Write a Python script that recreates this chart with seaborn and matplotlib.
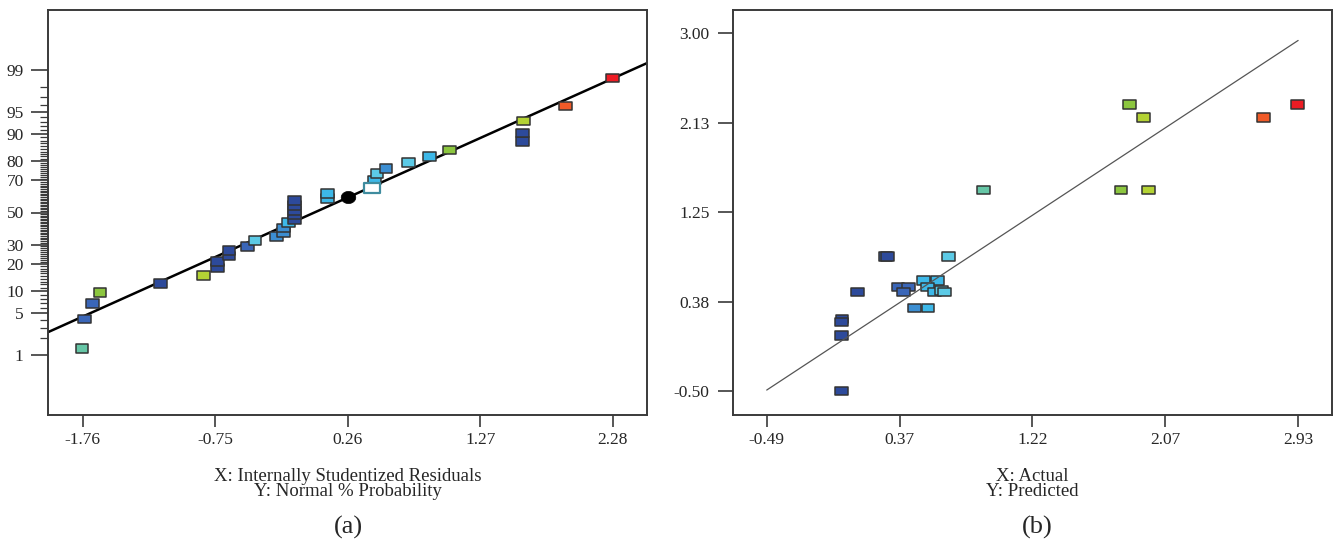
import math
import numpy as np
import pandas as pd
import matplotlib
matplotlib.use("Agg")
import matplotlib.pyplot as plt
from matplotlib.path import Path
import seaborn as sns

# ---------------- data ----------------
# (a) normal probability plot of internally studentized residuals
left_resid = [-1.766, -1.745, -1.685, -1.628, -1.167, -0.842, -0.733, -0.733,
              -0.646, -0.646, -0.502, -0.447, -0.282, -0.228, -0.228, -0.192,
              -0.149, -0.149, -0.149, -0.149, -0.149, 0.104, 0.104,
              0.465, 0.483, 0.551, 0.724, 0.880, 1.037, 1.591, 1.591, 1.597,
              1.916, 2.277]
left_prob = [1.33, 4.1, 6.9, 9.6, 12.4, 15.2, 18.3, 21.1,
             23.9, 26.7, 29.0, 32.3, 34.9, 37.3, 40.0, 43.4,
             45.1, 48.4, 51.2, 54.4, 57.6, 58.9, 62.3,
             70.2, 73.9, 76.5, 79.2, 82.0, 84.7, 87.7, 90.3, 93.2,
             95.9, 98.6]
left_level = ["c6", "c2", "c2", "c7", "c1", "c8", "c1", "c1",
              "c1", "c1", "c2", "c5", "c3", "c3", "c3", "c4",
              "c1", "c1", "c1", "c1", "c1", "c4", "c4",
              "c4", "c5", "c3", "c5", "c4", "c7", "c1", "c1", "c8",
              "c9", "c10"]
hollow_resid = [0.447]
hollow_prob = [65.3]
center_resid = [0.26]
center_prob = [59.8]
left_line_slope = 0.962        # z units per residual unit
left_line_anchor = (0.26, 0.245)
left_xticks = [-1.76, -0.75, 0.26, 1.27, 2.28]
left_xticklabels = ["-1.76", "-0.75", "0.26", "1.27", "2.28"]
left_yticks = [1, 5, 10, 20, 30, 50, 70, 80, 90, 95, 99]
left_yticklabels = ["1", "5", "10", "20", "30", "50", "70", "80", "90", "95", "99"]

# (b) predicted vs actual
right_actual = [-0.007, -0.007, -0.005, -0.007, 0.094, 0.272, 0.287, 0.355,
                0.420, 0.392, 0.462, 0.548, 0.517, 0.608, 0.546, 0.590,
                0.634, 0.655, 0.679, 0.903, 1.790, 1.967, 1.845, 1.933,
                2.708, 2.927]
right_pred = [-0.497, 0.043, 0.203, 0.177, 0.469, 0.817, 0.817, 0.518,
              0.518, 0.469, 0.313, 0.313, 0.580, 0.580, 0.518, 0.469,
              0.485, 0.469, 0.817, 1.468, 1.468, 1.468, 2.304, 2.177,
              2.177, 2.304]
right_level = ["c1", "c1", "c1", "c1", "c1", "c2", "c1", "c2",
               "c2", "c2", "c3", "c4", "c4", "c4", "c4", "c4",
               "c5", "c5", "c5", "c6", "c7", "c8", "c7", "c8",
               "c9", "c10"]
right_line_range = [-0.49, 2.93]
right_xticks = [-0.49, 0.365, 1.22, 2.075, 2.93]
right_xticklabels = ["-0.49", "0.37", "1.22", "2.07", "2.93"]
right_yticks = [-0.50, 0.375, 1.25, 2.125, 3.00]
right_yticklabels = ["-0.50", "0.38", "1.25", "2.13", "3.00"]

palette = {"c1": "#2D4A9B", "c2": "#3A66B8", "c3": "#3C8ED2", "c4": "#3DB8E8",
           "c5": "#5CCAE6", "c6": "#66C6A6", "c7": "#8CC63F", "c8": "#B4D334",
           "c9": "#F05A28", "c10": "#ED1C24"}


def norm_ppf(p):
    lo, hi = -10.0, 10.0
    for _ in range(200):
        mid = 0.5 * (lo + hi)
        if 0.5 * (1 + math.erf(mid / math.sqrt(2))) < p:
            lo = mid
        else:
            hi = mid
    return 0.5 * (lo + hi)


def to_z(percents):
    return [norm_ppf(v / 100.0) for v in percents]


# ---------------- style ----------------
sns.set_theme(style="white")
plt.rcParams["font.family"] = ["Liberation Serif", "DejaVu Serif"]
plt.rcParams["axes.edgecolor"] = "#3a3a3a"
plt.rcParams["axes.linewidth"] = 1.4

rect = Path([(-1.5, -1.0), (1.5, -1.0), (1.5, 1.0), (-1.5, 1.0), (-1.5, -1.0)],
            [Path.MOVETO, Path.LINETO, Path.LINETO, Path.LINETO, Path.CLOSEPOLY])
theta = np.linspace(0, 2 * np.pi, 60)
ellipse = Path(np.column_stack([1.2 * np.cos(theta), np.sin(theta)]))

fig = plt.figure(figsize=(13.35, 5.45), dpi=100)
fig.patch.set_facecolor("white")
axA = fig.add_axes([48 / 1335, 130 / 545, 599 / 1335, 405 / 545])
axB = fig.add_axes([733 / 1335, 130 / 545, 599 / 1335, 405 / 545])

tick_color = "#3a3a3a"

# ---------------- panel (a) ----------------
dfA = pd.DataFrame({"resid": left_resid, "z": to_z(left_prob), "level": left_level})
sns.scatterplot(data=dfA, x="resid", y="z", hue="level", palette=palette,
                marker=rect, s=85, edgecolor="#333333", linewidth=1.1,
                legend=False, ax=axA, zorder=3)
sns.scatterplot(x=hollow_resid, y=to_z(hollow_prob), marker=rect, s=130,
                color="white", edgecolor="#3F8C9F", linewidth=1.6,
                legend=False, ax=axA, zorder=3)
sns.scatterplot(x=center_resid, y=to_z(center_prob), marker=ellipse, s=110,
                color="black", edgecolor="black", linewidth=0.5,
                legend=False, ax=axA, zorder=4)
axA.axline(left_line_anchor, slope=left_line_slope, color="black", lw=1.8, zorder=2)

axA.set_xlim(-2.025, 2.54)
axA.set_ylim(-3.305, 3.305)
axA.set_xticks(left_xticks)
axA.set_xticklabels(left_xticklabels)
axA.set_yticks(to_z(left_yticks))
axA.set_yticklabels(left_yticklabels)
minor_p = [p for p in range(1, 100) if p not in left_yticks]
axA.set_yticks(to_z(minor_p), minor=True)
axA.tick_params(axis="y", which="major", length=12, width=1.2, pad=5.5,
                color=tick_color, labelsize=12.5, left=True)
axA.tick_params(axis="y", which="minor", length=6, width=0.9,
                color=tick_color, left=True)
axA.tick_params(axis="x", which="major", length=8.5, width=1.2, pad=4,
                color=tick_color, labelsize=12.5, bottom=True)
axA.set_xlabel("")
axA.set_ylabel("")

# ---------------- panel (b) ----------------
dfB = pd.DataFrame({"actual": right_actual, "pred": right_pred, "level": right_level})
sns.scatterplot(data=dfB, x="actual", y="pred", hue="level", palette=palette,
                marker=rect, s=85, edgecolor="#333333", linewidth=1.1,
                legend=False, ax=axB, zorder=3)
sns.lineplot(x=right_line_range, y=right_line_range, color="#555555", lw=0.9,
             ax=axB, zorder=4)
axB.set_xlim(-0.707, 3.148)
axB.set_ylim(-0.734, 3.228)
axB.set_xticks(right_xticks)
axB.set_xticklabels(right_xticklabels)
axB.set_yticks(right_yticks)
axB.set_yticklabels(right_yticklabels)
axB.tick_params(axis="y", which="major", length=11, width=1.2, pad=6,
                color=tick_color, labelsize=12.5, left=True)
axB.tick_params(axis="x", which="major", length=8.5, width=1.2, pad=4,
                color=tick_color, labelsize=12.5, bottom=True)
axB.set_xlabel("")
axB.set_ylabel("")

for ax in (axA, axB):
    ax.grid(False)
    ax.set_facecolor("white")
    for sp in ax.spines.values():
        sp.set_color("#3a3a3a")
        sp.set_linewidth(1.4)

# ---------------- captions ----------------
cxA = (48 + 599 / 2) / 1335
cxB = (733 + 599 / 2) / 1335
fig.text(cxA, 1 - 484 / 545, "X: Internally Studentized Residuals\nY: Normal % Probability",
         ha="center", va="center", fontsize=13.5, linespacing=0.82)
fig.text(cxB, 1 - 484 / 545, "X: Actual\nY: Predicted",
         ha="center", va="center", fontsize=13.5, linespacing=0.82)
fig.text(348 / 1335, 1 - 527 / 545, "(a)", ha="center", va="center", fontsize=19)
fig.text(1037 / 1335, 1 - 527 / 545, "(b)", ha="center", va="center", fontsize=19)

fig.savefig("out.png", dpi=100, facecolor="white")
